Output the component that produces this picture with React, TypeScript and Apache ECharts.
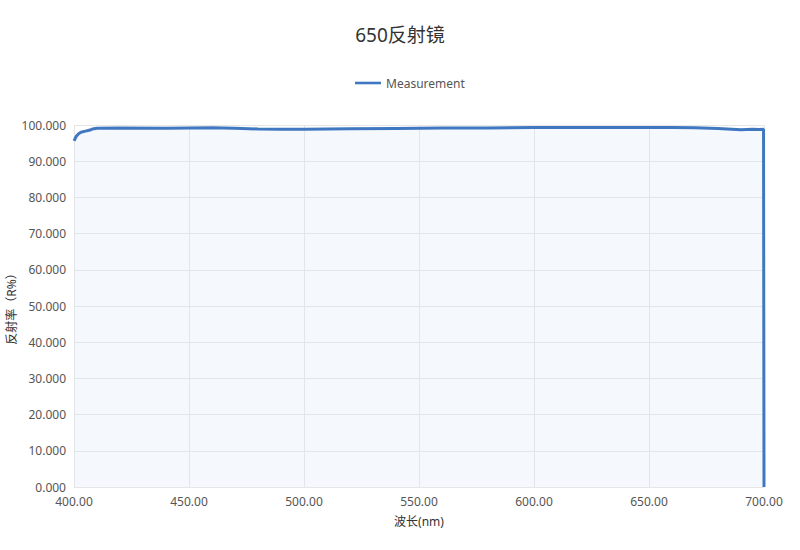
import React, { useEffect, useRef } from "react";
import * as echarts from "echarts";

// Wavelength (nm) and measured reflectance (%) of the 650 mirror
const wavelengths = [
  400, 401, 402, 403, 405, 407, 408, 410, 420, 440, 460, 470, 480, 490, 500,
  520, 540, 560, 580, 600, 620, 640, 660, 670, 680, 690, 695, 698, 699.8, 700,
];
const reflectance = [
  95.6, 96.9, 97.6, 98.0, 98.3, 98.6, 98.9, 99.1, 99.2, 99.1, 99.25, 99.1,
  98.9, 98.8, 98.8, 98.95, 99.05, 99.15, 99.2, 99.3, 99.3, 99.3, 99.3, 99.25,
  99.0, 98.7, 98.8, 98.75, 98.8, 0,
];

const titleText = "650反射镜";
const seriesName = "Measurement";
const xAxisName = "波长(nm)";
const yAxisName = "反射率（R%）";

const FONT = "'Noto Sans', 'Noto Sans CJK SC', sans-serif";

export default function App() {
  const ref = useRef<HTMLDivElement>(null);

  useEffect(() => {
    if (!ref.current) return;
    const chart = echarts.init(ref.current, undefined, { renderer: "svg" });
    const data = wavelengths.map((w, i) => [w, reflectance[i]]);
    chart.setOption({
      animation: false,
      textStyle: { fontFamily: FONT },
      title: {
        text: titleText,
        left: "center",
        top: 20,
        textStyle: { fontSize: 19, fontWeight: "normal", color: "#333", fontFamily: FONT },
      },
      legend: {
        top: 72,
        left: 350,
        itemWidth: 26,
        itemHeight: 14,
        itemGap: 6,
        textStyle: { color: "#555", fontSize: 12, fontFamily: FONT },
        data: [{ name: seriesName, icon: "path://M0,6 L30,6 L30,9 L0,9 Z" }],
      },
      grid: { left: 74, right: 36, top: 125, bottom: 63, outerBoundsMode: "none", containLabel: false },
      xAxis: {
        type: "value",
        min: 400,
        max: 700,
        interval: 50,
        name: xAxisName,
        nameLocation: "middle",
        nameGap: 28,
        nameMoveOverlap: false,
        nameTextStyle: { color: "#333", fontSize: 12 },
        axisLine: { show: false },
        axisTick: { show: false },
        axisLabel: {
          color: "#555",
          fontSize: 12,
          margin: 8,
          formatter: (v: number) => v.toFixed(2),
        },
        splitLine: { show: true, lineStyle: { color: "#e6e6e6" } },
      },
      yAxis: {
        type: "value",
        min: 0,
        max: 100,
        interval: 10,
        name: yAxisName,
        nameLocation: "middle",
        nameGap: 57,
        nameMoveOverlap: false,
        nameTextStyle: { color: "#333", fontSize: 12 },
        axisLine: { show: false },
        axisTick: { show: false },
        axisLabel: {
          color: "#555",
          fontSize: 12,
          margin: 8,
          formatter: (v: number) => v.toFixed(3),
        },
        splitLine: { show: true, lineStyle: { color: "#e6e6e6" } },
      },
      series: [
        {
          name: seriesName,
          type: "line",
          data,
          showSymbol: false,
          symbol: "none",
          lineStyle: { color: "#3f77c0", width: 3 },
          itemStyle: { color: "#3f77c0" },
          areaStyle: { color: "rgba(215,232,248,0.35)" },
        },
      ],
    });
    return () => chart.dispose();
  }, []);

  return (
    <div
      ref={ref}
      style={{ position: "fixed", left: 0, top: 0, width: 800, height: 550, background: "#fff" }}
    />
  );
}
